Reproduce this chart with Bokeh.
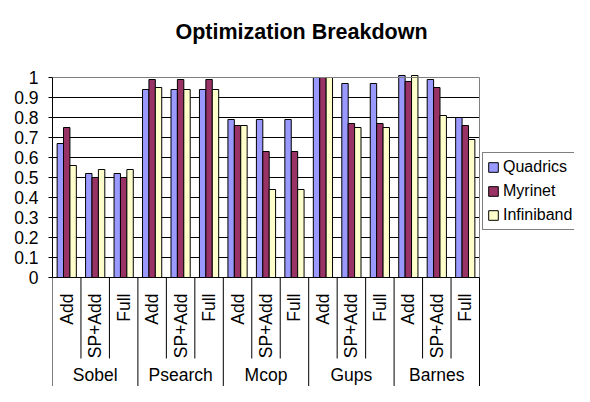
import numpy as np
from bokeh.plotting import figure
from bokeh.models import (ColumnDataSource, FixedTicker, Legend, LegendItem, LabelSet,
                          Label, CustomJSTickFormatter, Range1d)
from bokeh.core.properties import value
from bokeh.embed import file_html
from bokeh.resources import INLINE

# ---------------- data ----------------
groups = ["Sobel", "Psearch", "Mcop", "Gups", "Barnes"]
variants = ["Add", "SP+Add", "Full"]
series = ["Quadrics", "Myrinet", "Infiniband"]
quadrics = [0.67, 0.52, 0.52, 0.94, 0.94, 0.94, 0.79, 0.79, 0.79, 1.00, 0.97, 0.97, 1.01, 0.99, 0.80]
myrinet = [0.75, 0.50, 0.50, 0.99, 0.99, 0.99, 0.76, 0.63, 0.63, 1.00, 0.77, 0.77, 0.98, 0.95, 0.76]
infiniband = [0.56, 0.54, 0.54, 0.95, 0.94, 0.94, 0.76, 0.44, 0.44, 1.00, 0.75, 0.75, 1.01, 0.81, 0.69]
y_ticks = [0, 0.1, 0.2, 0.3, 0.4, 0.5, 0.6, 0.7, 0.8, 0.9, 1.0]
title_text = "Optimization Breakdown"

colors = ["#9999FF", "#993366", "#FFFFCC"]
FONT = "Liberation Sans"

n_sub = len(variants)
n = len(groups) * n_sub

W, H = 574, 386
LEFT = 52             # frame left (px)
PX_PER_CAT = 427 / n  # px per category
PX_PER_UNIT = 200     # px per value unit
ZERO_Y = 277          # canvas y of value 0


def dx(px):
    return (px - LEFT) / PX_PER_CAT


def dy(py):
    return (ZERO_Y - py) / PX_PER_UNIT


x_end = dx(W)
y_top = dy(0)
y_bot = dy(H)

p = figure(width=W, height=H, output_backend="svg", toolbar_location=None,
           x_range=Range1d(0, x_end), y_range=Range1d(y_bot, y_top),
           x_axis_location=None,
           min_border_left=LEFT, min_border_right=0, min_border_top=0, min_border_bottom=0)
p.outline_line_color = None
p.background_fill_color = "white"
p.border_fill_color = "white"
p.grid.visible = False

# ---------------- grid lines (0.1 .. 0.9) ----------------
gy = np.array(y_ticks[1:-1])
p.segment(x0=np.zeros(len(gy)), y0=gy, x1=np.full(len(gy), n), y1=gy,
          line_color="black", line_width=1)

# ---------------- bars ----------------
xc = np.arange(n) + 0.5
bar_w = 0.225
offsets = [-bar_w, 0.0, bar_w]
renderers = []
for vals, col, off in zip([quadrics, myrinet, infiniband], colors, offsets):
    src = ColumnDataSource(dict(x=xc + off, top=vals))
    r = p.vbar(x="x", top="top", bottom=0, width=bar_w, source=src,
               fill_color=col, line_color="black", line_width=1)
    renderers.append(r)

# ---------------- frame top / right (grey) ----------------
p.segment(x0=[0, n], y0=[y_ticks[-1], 0], x1=[n, n], y1=[y_ticks[-1], y_ticks[-1]],
          line_color="#808080", line_width=1)

# ---------------- category axis line and separators ----------------
bx = np.arange(n + 1)
by_end = np.where(bx % n_sub == 0, y_bot, dy(358))
p.segment(x0=bx, y0=np.zeros(n + 1), x1=bx, y1=by_end, line_color="black", line_width=1)
p.segment(x0=[0], y0=[0], x1=[n], y1=[0], line_color="black", line_width=1)

# ---------------- y axis ----------------
ya = p.yaxis[0]
ya.ticker = FixedTicker(ticks=y_ticks)
ya.formatter = CustomJSTickFormatter(code="return (Math.round(tick*10)/10).toString();")
ya.bounds = (0, 1)
ya.axis_line_color = "black"
ya.major_tick_line_color = "black"
ya.major_tick_in = 0
ya.major_tick_out = 4
ya.minor_tick_in = 0
ya.minor_tick_out = 0
ya.major_label_standoff = 10
ya.major_label_text_font = FONT
ya.major_label_text_font_size = "17.5px"
ya.major_label_text_color = "black"

# ---------------- sub labels (rotated) ----------------
sub_src = ColumnDataSource(dict(x=xc, y=np.full(n, dy(293)),
                                text=[v for g in groups for v in variants]))
p.add_layout(LabelSet(x="x", y="y", text="text", source=sub_src, angle=np.pi / 2,
                      text_align="right", text_baseline="middle",
                      text_font=value(FONT), text_font_size=value("17.5px"),
                      text_color="black"))

# ---------------- group labels ----------------
gx = np.arange(len(groups)) * n_sub + n_sub / 2
grp_src = ColumnDataSource(dict(x=gx, y=np.full(len(groups), dy(374)), text=groups))
p.add_layout(LabelSet(x="x", y="y", text="text", source=grp_src,
                      text_align="center", text_baseline="middle",
                      text_font=value(FONT), text_font_size=value("17.5px"),
                      text_color="black"))

# ---------------- title ----------------
p.add_layout(Label(x=dx(301), y=dy(31),
                   text=title_text, text_align="center", text_baseline="middle",
                   text_font=FONT, text_font_size="21.5px", text_font_style="bold",
                   text_color="black"))

# ---------------- legend ----------------
legend = Legend(items=[LegendItem(label=s, renderers=[r]) for s, r in zip(series, renderers)],
                location=(482 - LEFT, 156), orientation="vertical", margin=0,
                glyph_width=12, glyph_height=12, label_height=20, label_standoff=4,
                padding=4, spacing=4,
                border_line_color="black", border_line_width=1,
                background_fill_color="white", background_fill_alpha=1,
                label_text_font=FONT, label_text_font_size="16px", label_text_color="black")
p.add_layout(legend, "center")

open("out.html", "w").write(file_html(p, INLINE))
